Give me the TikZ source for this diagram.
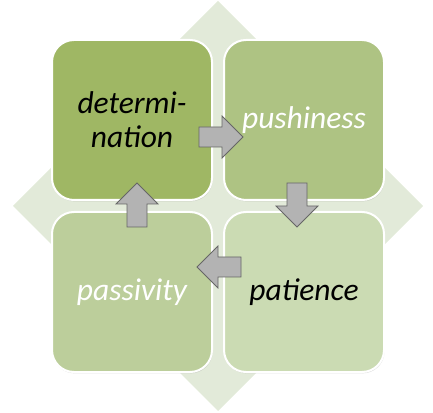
\documentclass[tikz,border=0pt]{standalone}
\usepackage{fontspec}
\setmainfont{Carlito}
\usetikzlibrary{shadows}

\definecolor{losange}{HTML}{E2EAD9}
\definecolor{vertA}{HTML}{9FB764}
\definecolor{vertB}{HTML}{AEC383}
\definecolor{vertC}{HTML}{BCCE9B}
\definecolor{vertD}{HTML}{CBDBB3}
\definecolor{fleche}{HTML}{B3B3B3}

\begin{document}
\begin{tikzpicture}[x=1pt, y=1pt]
        \tikzstyle{carre}=[rectangle, rounded corners=22pt, draw=white, line width=2pt, minimum size=160pt, inner sep=0, align=center, font=\fontsize{31.5}{34}\selectfont\itshape, drop shadow={shadow xshift=0.6pt, shadow yshift=-1.4pt, opacity=0.25}];
        \tikzstyle{bloc}=[fill=fleche, draw=black!60, line width=0.8pt, line join=miter];

        \useasboundingbox (0, 0) rectangle (433, 412);

        \coordinate (O) at (218, 206);
        \fill[losange] (218, 411) -- (423, 206) -- (218, 1) -- (13, 206) -- cycle;

        \node[carre, fill=vertA, text=black] (det) at (132, 292) {determi-\\nation};
        \node[carre, fill=vertB, text=white] (push) at (304, 292) {pushiness};
        \node[carre, fill=vertD, text=black] (pati) at (304, 120) {patience};
        \node[carre, fill=vertC, text=white] (pass) at (132, 120) {passivity};

        \foreach \x/\y/\a in {243/275/0, 297/185/-90, 197/145/180, 137/229/90}{
          \draw[bloc, shift={(\x, \y)}, rotate=\a]
            (-44, -10) -- (-21, -10) -- (-21, -21) -- (0, 0) -- (-21, 21) -- (-21, 10) -- (-44, 10) -- cycle;
        }
    \end{tikzpicture}
\end{document}
